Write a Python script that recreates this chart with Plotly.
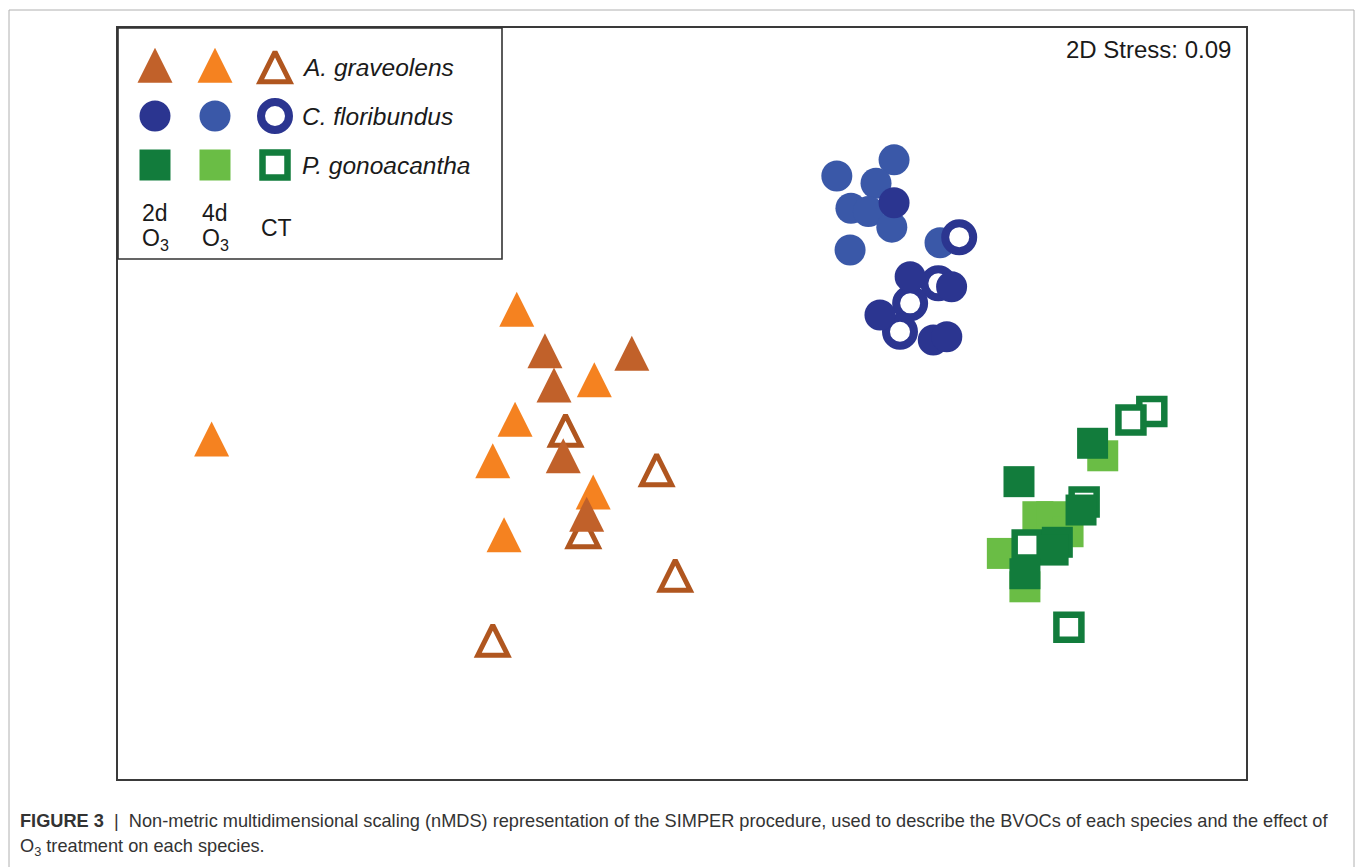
import plotly.graph_objects as go

# nMDS ordination coordinates (axis 1, axis 2) per species and treatment
ag_2d_x = [-0.486, -0.178, -0.454, -0.421, -0.338]
ag_2d_y = [0.156, 0.147, 0.033, -0.221, -0.431]
ag_4d_x = [-0.586, -0.311, -0.592, -0.671, -0.315, -0.631, -1.668]
ag_4d_y = [0.306, 0.052, -0.090, -0.239, -0.351, -0.505, -0.161]
ag_ct_x = [-0.413, -0.090, -0.350, -0.024, -0.671]
ag_ct_y = [-0.123, -0.265, -0.488, -0.644, -0.878]

cf_2d_x = [0.752, 0.809, 0.956, 0.702, 0.891, 0.939]
cf_2d_y = [0.722, 0.456, 0.420, 0.318, 0.228, 0.240]
cf_4d_x = [0.549, 0.752, 0.688, 0.599, 0.661, 0.744, 0.596, 0.915]
cf_4d_y = [0.818, 0.876, 0.792, 0.702, 0.690, 0.634, 0.552, 0.578]
cf_ct_x = [0.983, 0.909, 0.809, 0.773]
cf_ct_y = [0.598, 0.432, 0.360, 0.258]

pg_2d_x = [1.456, 1.195, 1.415, 1.331, 1.316, 1.216]
pg_2d_y = [-0.143, -0.281, -0.383, -0.499, -0.527, -0.612]
pg_4d_x = [1.492, 1.262, 1.311, 1.369, 1.136, 1.216]
pg_4d_y = [-0.188, -0.407, -0.407, -0.461, -0.539, -0.659]
pg_ct_x = [1.666, 1.592, 1.426, 1.224, 1.372]
pg_ct_y = [-0.029, -0.059, -0.354, -0.509, -0.804]

species = ["A. graveolens", "C. floribundus", "P. gonoacantha"]
treatments = ["2d", "4d", "CT"]
stress = 0.09

# page geometry (pixels)
W, H = 1355, 867
L, R, T, B = 118, 1246, 28, 779
X_RANGE = [-2.0, 2.0]
Y_RANGE = [-1.35, 1.35]
PX_PER_Y = (B - T) / (Y_RANGE[1] - Y_RANGE[0])

# key grid (columns 0/1/2 = 2d/4d/CT, rows 0/-1/-2 = species)
KEY_RIGHT, KEY_BOTTOM = 502, 259
KEY_COL_PX, KEY_ROW_PX = 60.0, 49.0
KEY_X0_PX, KEY_Y0_PX = 155, 67
KEY_X_RANGE = [-(KEY_X0_PX - L) / KEY_COL_PX, (KEY_RIGHT - KEY_X0_PX) / KEY_COL_PX]
KEY_Y_RANGE = [-(KEY_BOTTOM - KEY_Y0_PX) / KEY_ROW_PX, (KEY_Y0_PX - T) / KEY_ROW_PX]

# marker styles; the triangle ("arrow-up") is anchored at its apex, so it is
# lifted by (height - depth of base below the point) to sit centred on the point
TRI = dict(symbol="arrow-up", c2="#C1612A", c4="#F58220", cc="#B0561F",
           size=35, osize=30, olw=5, base=8.25, obase=10.0, kbase=15.7, kobase=17.3)
CIR = dict(symbol="circle", c2="#2B3590", c4="#3A58A8", cc="#2B3590",
           size=31, osize=28, olw=8)
SQR = dict(symbol="square", c2="#127C3C", c4="#6ABD45", cc="#127C3C",
           size=31, osize=25, olw=6.5)

fig = go.Figure()


def lift(st, open_marker, px_per_unit, key=False):
    if st["symbol"] != "arrow-up":
        return 0.0
    if open_marker:
        height = st["osize"] + st["olw"] / 2
        base = st["kobase"] if key else st["obase"]
    else:
        height = st["size"]
        base = st["kbase"] if key else st["base"]
    return (height - base) / px_per_unit


def add_group(x4, y4, xc, yc, x2, y2, st, xa="x", ya="y", ppu=PX_PER_Y, key=False):
    # 4d first, controls next, 2d on top
    d4 = lift(st, False, ppu, key)
    dc = lift(st, True, ppu, key)
    fig.add_trace(go.Scatter(x=x4, y=[v + d4 for v in y4], mode="markers", xaxis=xa, yaxis=ya,
                             marker=dict(symbol=st["symbol"], size=st["size"], color=st["c4"],
                                         line=dict(width=0)), showlegend=False, hoverinfo="skip"))
    fig.add_trace(go.Scatter(x=xc, y=[v + dc for v in yc], mode="markers", xaxis=xa, yaxis=ya,
                             marker=dict(symbol=st["symbol"], size=st["osize"], color="white",
                                         line=dict(width=st["olw"], color=st["cc"])),
                             showlegend=False, hoverinfo="skip"))
    fig.add_trace(go.Scatter(x=x2, y=[v + d4 for v in y2], mode="markers", xaxis=xa, yaxis=ya,
                             marker=dict(symbol=st["symbol"], size=st["size"], color=st["c2"],
                                         line=dict(width=0)), showlegend=False, hoverinfo="skip"))


add_group(ag_4d_x, ag_4d_y, ag_ct_x, ag_ct_y, ag_2d_x, ag_2d_y, TRI)
add_group(cf_4d_x, cf_4d_y, cf_ct_x, cf_ct_y, cf_2d_x, cf_2d_y, CIR)
add_group(pg_4d_x, pg_4d_y, pg_ct_x, pg_ct_y, pg_2d_x, pg_2d_y, SQR)

for row, st in enumerate([TRI, CIR, SQR]):
    add_group([1], [-row], [2], [-row], [0], [-row], st, xa="x2", ya="y2",
              ppu=KEY_ROW_PX, key=True)


def px(x):
    return (x - L) / (R - L)


def py(y):
    return (B - y) / (B - T)


FONT = "Liberation Sans, Arial, sans-serif"
annotations = []
for row, name in enumerate(species):
    annotations.append(dict(x=2.42, y=-row, xref="x2", yref="y2", xanchor="left", yanchor="middle",
                            text="<i>%s</i>" % name, showarrow=False,
                            font=dict(family=FONT, size=24.5, color="#1a1a1a")))
for col, lab in enumerate(treatments[:2]):
    annotations.append(dict(x=col, y=-2.98, xref="x2", yref="y2", text=lab, showarrow=False,
                            xanchor="center", yanchor="middle",
                            font=dict(family=FONT, size=23, color="#1a1a1a")))
    annotations.append(dict(x=col, y=-3.53, xref="x2", yref="y2",
                            text="O<sub>3</sub>", showarrow=False,
                            xanchor="center", yanchor="middle",
                            font=dict(family=FONT, size=23, color="#1a1a1a")))
annotations.append(dict(x=2.03, y=-3.29, xref="x2", yref="y2", text=treatments[2], showarrow=False,
                        xanchor="center", yanchor="middle",
                        font=dict(family=FONT, size=23, color="#1a1a1a")))

annotations.append(dict(x=px(1233), y=py(49), xref="paper", yref="paper", xanchor="right",
                        yanchor="middle", text="2D Stress: %.2f" % stress, showarrow=False,
                        font=dict(family=FONT, size=24, color="#1a1a1a")))

# figure caption
annotations.append(dict(
    x=px(18), y=py(821), xref="paper", yref="paper", xanchor="left", yanchor="middle",
    showarrow=False, align="left",
    text="<b>FIGURE 3</b>  |  Non-metric multidimensional scaling (nMDS) representation of the SIMPER "
         "procedure, used to describe the BVOCs of each species and the effect of",
    font=dict(family=FONT, size=18.2, color="#333333")))
annotations.append(dict(
    x=px(18), y=py(847), xref="paper", yref="paper", xanchor="left", yanchor="middle",
    showarrow=False, align="left", text="O<sub>3</sub> treatment on each species.",
    font=dict(family=FONT, size=18.2, color="#333333")))

shapes = [
    # key box
    dict(type="rect", xref="paper", yref="paper", x0=px(L), x1=px(KEY_RIGHT), y0=py(KEY_BOTTOM),
         y1=py(T), line=dict(color="#333333", width=1.6), fillcolor="rgba(0,0,0,0)", layer="above"),
    # outer page frame
    dict(type="rect", xref="paper", yref="paper", x0=px(9), x1=px(1354), y0=py(900), y1=py(10),
         line=dict(color="#b0b0b0", width=1), fillcolor="rgba(0,0,0,0)"),
]

axis_common = dict(showgrid=False, zeroline=False, showticklabels=False, ticks="")
fig.update_layout(
    width=W, height=H,
    margin=dict(l=L, r=W - R, t=T, b=H - B),
    paper_bgcolor="white", plot_bgcolor="white",
    xaxis=dict(range=X_RANGE, showline=True, mirror=True, linecolor="#3a3a3a", linewidth=1.8,
               **axis_common),
    yaxis=dict(range=Y_RANGE, showline=True, mirror=True, linecolor="#3a3a3a", linewidth=1.8,
               **axis_common),
    xaxis2=dict(domain=[0, px(KEY_RIGHT)], range=KEY_X_RANGE, anchor="y2",
                showline=False, fixedrange=True, **axis_common),
    yaxis2=dict(domain=[py(KEY_BOTTOM), 1], range=KEY_Y_RANGE, anchor="x2",
                showline=False, fixedrange=True, **axis_common),
    annotations=annotations,
    shapes=shapes,
    showlegend=False,
)

fig.write_html("out.html", config={"displayModeBar": False})
